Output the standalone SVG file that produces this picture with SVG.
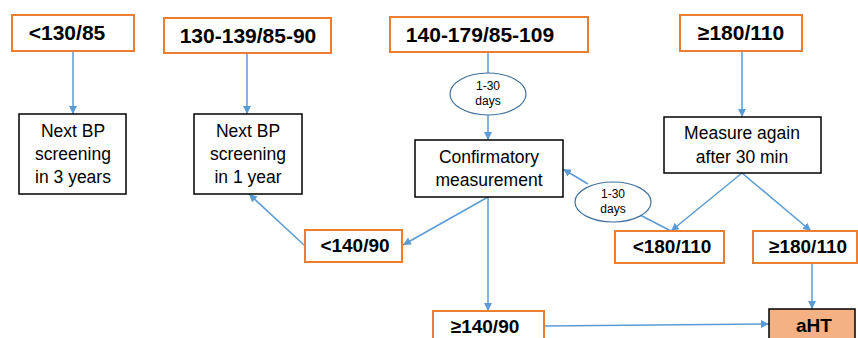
<svg xmlns="http://www.w3.org/2000/svg" width="858" height="338" viewBox="0 0 858 338">
<defs>
<marker id="ah" viewBox="0 0 8 8" refX="8" refY="4" markerWidth="8" markerHeight="8" markerUnits="userSpaceOnUse" orient="auto">
<path d="M0,0 L8,4 L0,8 z" fill="#5B9BD5"/>
</marker>
<style>
.ob{fill:#fff;stroke:#ED7D31;stroke-width:2}
.bb{fill:#fff;stroke:#000;stroke-width:1.5}
.el{fill:#fff;stroke:#41719C;stroke-width:1.2}
.c{fill:none;stroke:#5B9BD5;stroke-width:1.5}
.ca{fill:none;stroke:#5B9BD5;stroke-width:1.5;marker-end:url(#ah)}
.bl{font-family:"Liberation Sans",Arial,sans-serif;font-weight:bold;font-size:21px;fill:#000;text-anchor:middle}
.bs{font-family:"Liberation Sans",Arial,sans-serif;font-weight:bold;font-size:19px;fill:#000;text-anchor:middle}
.rt{font-family:"Liberation Sans",Arial,sans-serif;font-size:17.5px;fill:#000;text-anchor:middle}
.sm{font-family:"Liberation Sans",Arial,sans-serif;font-size:12px;fill:#000;text-anchor:middle}
</style>
</defs>
<g id="connectors">
<line class="ca" x1="73" y1="51" x2="73" y2="114"/>
<line class="ca" x1="247" y1="53" x2="247" y2="114"/>
<line class="c" x1="488" y1="52" x2="488" y2="73"/>
<line class="ca" x1="488" y1="115" x2="488" y2="140"/>
<line class="ca" x1="742" y1="51" x2="742" y2="117"/>
<line class="ca" x1="742" y1="173" x2="671" y2="231"/>
<line class="ca" x1="742" y1="173" x2="811" y2="231"/>
<line class="c" x1="671" y1="231" x2="640" y2="215"/>
<line class="ca" x1="588" y1="184" x2="563" y2="169"/>
<line class="ca" x1="488" y1="197" x2="403" y2="245"/>
<line class="ca" x1="304" y1="245" x2="249" y2="194"/>
<line class="ca" x1="488" y1="197" x2="488" y2="311"/>
<line class="ca" x1="812" y1="263" x2="812" y2="309"/>
<line class="ca" x1="544" y1="326" x2="769" y2="324"/>
</g>
<g id="n1"><rect class="ob" x="12" y="15" width="122" height="36"/><text class="bl" x="67" y="40">&lt;130/85</text></g>
<g id="n2"><rect class="ob" x="164" y="18" width="167" height="35"/><text class="bl" x="248" y="43">130-139/85-90</text></g>
<g id="n3"><rect class="ob" x="390" y="17" width="198" height="35"/><text class="bl" x="480" y="42">140-179/85-109</text></g>
<g id="n4"><rect class="ob" x="680" y="15" width="122" height="36"/><text class="bl" x="741" y="40">≥180/110</text></g>
<g id="n5"><rect class="bb" x="19" y="114" width="107" height="80"/><text class="rt" x="73" y="137">Next BP</text><text class="rt" x="73" y="160">screening</text><text class="rt" x="73" y="183">in 3 years</text></g>
<g id="n6"><rect class="bb" x="194" y="114" width="108" height="80"/><text class="rt" x="248" y="137">Next BP</text><text class="rt" x="248" y="160">screening</text><text class="rt" x="248" y="183">in 1 year</text></g>
<g id="e1"><ellipse class="el" cx="488" cy="94" rx="38" ry="21"/><text class="sm" x="488" y="90">1-30</text><text class="sm" x="488" y="105">days</text></g>
<g id="n7"><rect class="bb" x="415" y="140" width="148" height="57"/><text class="rt" x="489" y="163">Confirmatory</text><text class="rt" x="489" y="186">measurement</text></g>
<g id="n8"><rect class="bb" x="664" y="117" width="157" height="56"/><text class="rt" x="742" y="139">Measure again</text><text class="rt" x="742" y="163">after 30 min</text></g>
<g id="e2"><ellipse class="el" cx="613" cy="202" rx="38" ry="20"/><text class="sm" x="613" y="198">1-30</text><text class="sm" x="613" y="213">days</text></g>
<g id="n9"><rect class="ob" x="305" y="230" width="97" height="32"/><text class="bs" x="355" y="252">&lt;140/90</text></g>
<g id="n10"><rect class="ob" x="615" y="231" width="109" height="32"/><text class="bs" x="672" y="253">&lt;180/110</text></g>
<g id="n11"><rect class="ob" x="753" y="231" width="104" height="32"/><text class="bs" x="808" y="253">≥180/110</text></g>
<g id="n12"><rect class="ob" x="433" y="311" width="111" height="32"/><text class="bs" x="485" y="333">≥140/90</text></g>
<g id="n13"><rect x="769" y="309" width="86" height="34" fill="#F4B183" stroke="#000" stroke-width="1.5"/><text class="bs" x="814" y="332">aHT</text></g>
</svg>
